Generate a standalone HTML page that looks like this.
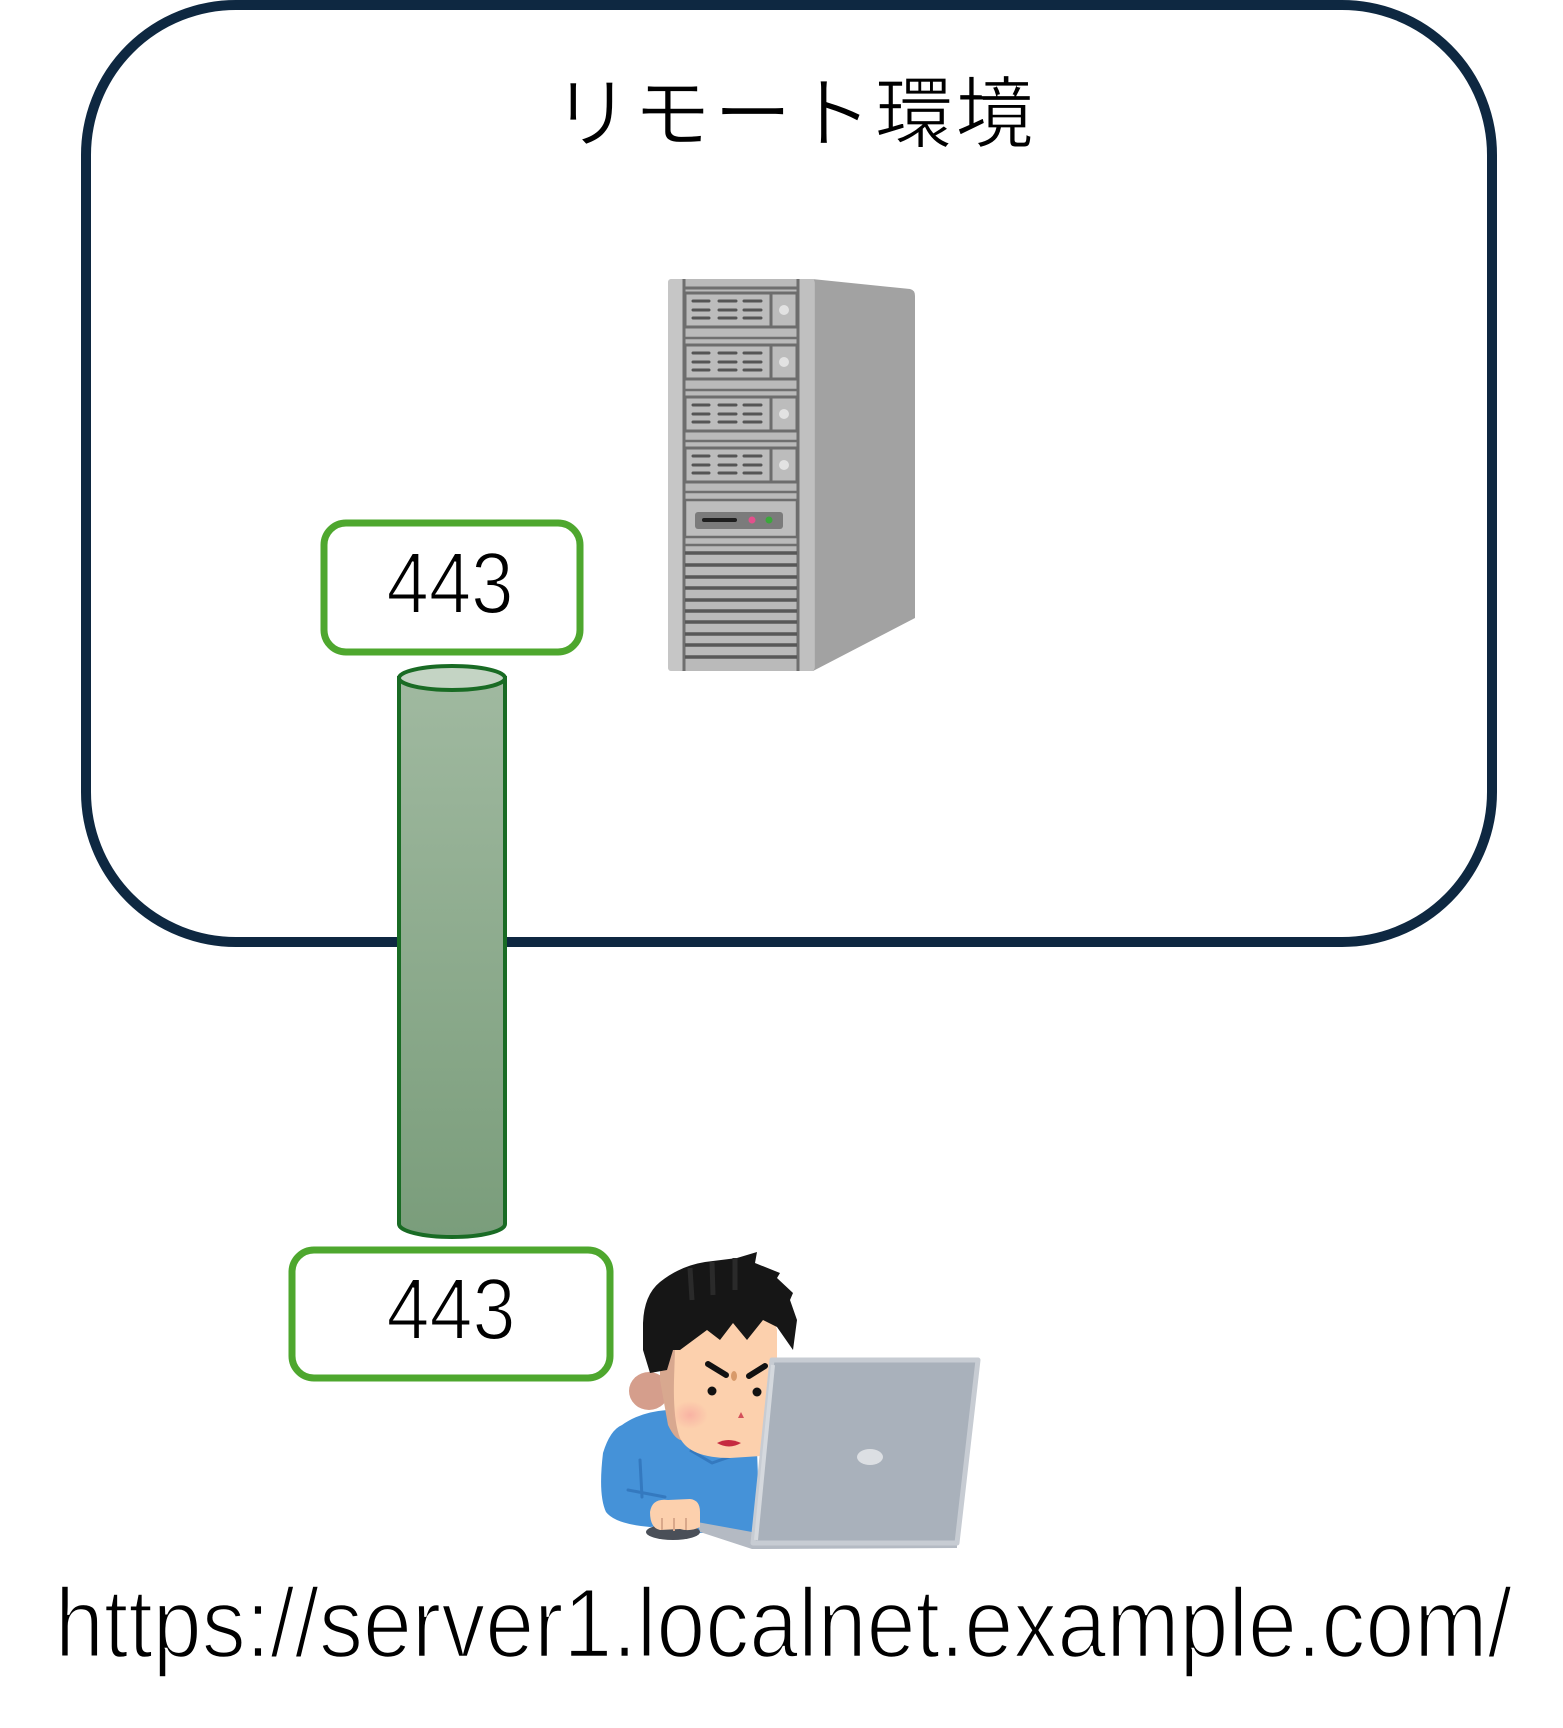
<!DOCTYPE html>
<html>
<head>
<meta charset="utf-8">
<style>
  html, body { margin:0; padding:0; background:#ffffff; }
  body { width:1563px; height:1728px; overflow:hidden; }
  svg { display:block; }
  text { font-family: "Liberation Sans", "Noto Sans CJK JP", sans-serif; fill:#000; }
</style>
</head>
<body>
<svg width="1563" height="1728" viewBox="0 0 1563 1728" xmlns="http://www.w3.org/2000/svg">
  <defs>
    <linearGradient id="cyl" x1="0" y1="0" x2="0" y2="1">
      <stop offset="0" stop-color="#a0b9a0"/>
      <stop offset="1" stop-color="#7a9d7b"/>
    </linearGradient>
    <radialGradient id="blush" cx="0.5" cy="0.5" r="0.5">
      <stop offset="0" stop-color="#f7a9a0" stop-opacity="0.75"/>
      <stop offset="1" stop-color="#f7a9a0" stop-opacity="0"/>
    </radialGradient>
  </defs>

  <!-- Outer remote environment box -->
  <rect x="86" y="5" width="1406" height="937" rx="150" ry="150" fill="none" stroke="#0e2841" stroke-width="10"/>

  <!-- Title -->
  <text x="793" y="141" font-size="78" text-anchor="middle" textLength="481" lengthAdjust="spacing" stroke="#ffffff" stroke-width="1.2" font-family="'Liberation Sans','Noto Sans CJK JP',sans-serif">リモート環境</text>

  <!-- Server tower -->
  <g>
    <path d="M812,279 L910,289 Q915,290 915,296 L915,618 L813,671 Z" fill="#a2a2a2"/>
    <rect x="668" y="279" width="147" height="392" rx="4" fill="#bababa"/>
    <rect x="668" y="279" width="15" height="392" rx="3" fill="#c6c6c6"/>
    <rect x="799" y="279" width="15" height="392" fill="#c0c0c0"/>
    <line x1="684" y1="279" x2="684" y2="671" stroke="#6f6f6f" stroke-width="3"/>
    <line x1="798" y1="279" x2="798" y2="671" stroke="#6f6f6f" stroke-width="3"/>
    <line x1="684" y1="288" x2="798" y2="288" stroke="#6f6f6f" stroke-width="3"/>

    <g stroke="#6d6d6d" stroke-width="3">
      <rect x="685" y="293" width="86" height="34" fill="#bcbcbc"/>
      <rect x="771" y="293" width="26" height="34" fill="#bcbcbc"/>
      <rect x="685" y="345" width="86" height="34" fill="#bcbcbc"/>
      <rect x="771" y="345" width="26" height="34" fill="#bcbcbc"/>
      <rect x="685" y="397" width="86" height="34" fill="#bcbcbc"/>
      <rect x="771" y="397" width="26" height="34" fill="#bcbcbc"/>
      <rect x="685" y="448" width="86" height="34" fill="#bcbcbc"/>
      <rect x="771" y="448" width="26" height="34" fill="#bcbcbc"/>
    </g>
    <g fill="#e2e2e2">
      <circle cx="784" cy="310" r="5"/>
      <circle cx="784" cy="362" r="5"/>
      <circle cx="784" cy="414" r="5"/>
      <circle cx="784" cy="465" r="5"/>
    </g>
    <g stroke="#555" stroke-width="3" stroke-linecap="round">
      <line x1="693" y1="301" x2="709" y2="301"/><line x1="719" y1="301" x2="736" y2="301"/><line x1="744" y1="301" x2="761" y2="301"/>
      <line x1="693" y1="310" x2="709" y2="310"/><line x1="719" y1="310" x2="736" y2="310"/><line x1="744" y1="310" x2="761" y2="310"/>
      <line x1="693" y1="318" x2="709" y2="318"/><line x1="719" y1="318" x2="736" y2="318"/><line x1="744" y1="318" x2="761" y2="318"/>
      <line x1="693" y1="353" x2="709" y2="353"/><line x1="719" y1="353" x2="736" y2="353"/><line x1="744" y1="353" x2="761" y2="353"/>
      <line x1="693" y1="362" x2="709" y2="362"/><line x1="719" y1="362" x2="736" y2="362"/><line x1="744" y1="362" x2="761" y2="362"/>
      <line x1="693" y1="370" x2="709" y2="370"/><line x1="719" y1="370" x2="736" y2="370"/><line x1="744" y1="370" x2="761" y2="370"/>
      <line x1="693" y1="405" x2="709" y2="405"/><line x1="719" y1="405" x2="736" y2="405"/><line x1="744" y1="405" x2="761" y2="405"/>
      <line x1="693" y1="414" x2="709" y2="414"/><line x1="719" y1="414" x2="736" y2="414"/><line x1="744" y1="414" x2="761" y2="414"/>
      <line x1="693" y1="422" x2="709" y2="422"/><line x1="719" y1="422" x2="736" y2="422"/><line x1="744" y1="422" x2="761" y2="422"/>
      <line x1="693" y1="456" x2="709" y2="456"/><line x1="719" y1="456" x2="736" y2="456"/><line x1="744" y1="456" x2="761" y2="456"/>
      <line x1="693" y1="465" x2="709" y2="465"/><line x1="719" y1="465" x2="736" y2="465"/><line x1="744" y1="465" x2="761" y2="465"/>
      <line x1="693" y1="473" x2="709" y2="473"/><line x1="719" y1="473" x2="736" y2="473"/><line x1="744" y1="473" x2="761" y2="473"/>
    </g>
    <g stroke="#6f6f6f" stroke-width="2.5">
      <line x1="684" y1="338" x2="798" y2="338"/>
      <line x1="684" y1="390" x2="798" y2="390"/>
      <line x1="684" y1="441" x2="798" y2="441"/>
      <line x1="684" y1="492" x2="798" y2="492"/>
    </g>
    <rect x="685" y="500" width="112" height="37" fill="#bdbdbd" stroke="#6d6d6d" stroke-width="2.5"/>
    <rect x="695" y="512" width="88" height="17" rx="3" fill="#7b7b7b"/>
    <rect x="702" y="518" width="35" height="4" rx="2" fill="#1e1e1e"/>
    <circle cx="752" cy="520" r="3.5" fill="#e3508c"/>
    <circle cx="769" cy="520" r="3.5" fill="#3ba83b"/>
    <line x1="684" y1="545" x2="798" y2="545" stroke="#6f6f6f" stroke-width="2.5"/>
    <g stroke="#585858" stroke-width="3.5">
      <line x1="685" y1="553" x2="797" y2="553"/>
      <line x1="685" y1="565" x2="797" y2="565"/>
      <line x1="685" y1="577" x2="797" y2="577"/>
      <line x1="685" y1="588" x2="797" y2="588"/>
      <line x1="685" y1="600" x2="797" y2="600"/>
      <line x1="685" y1="611" x2="797" y2="611"/>
      <line x1="685" y1="622" x2="797" y2="622"/>
      <line x1="685" y1="634" x2="797" y2="634"/>
      <line x1="685" y1="645" x2="797" y2="645"/>
      <line x1="685" y1="657" x2="797" y2="657"/>
    </g>
  </g>

  <!-- Top 443 box -->
  <rect x="324" y="523" width="256" height="129" rx="22" ry="22" fill="#ffffff" stroke="#4ea72e" stroke-width="7"/>
  <text x="450" y="613" font-size="87" text-anchor="middle" textLength="127" lengthAdjust="spacingAndGlyphs" stroke="#ffffff" stroke-width="2">443</text>

  <!-- Cylinder (tunnel) -->
  <path d="M399,678 L399,1224 A53,13 0 0 0 505,1224 L505,678 Z" fill="url(#cyl)" stroke="#196b24" stroke-width="4"/>
  <ellipse cx="452" cy="678" rx="53" ry="12" fill="#c4d4c4" stroke="#196b24" stroke-width="4"/>

  <!-- Bottom 443 box -->
  <rect x="292" y="1250" width="318" height="128" rx="22" ry="22" fill="#ffffff" stroke="#4ea72e" stroke-width="7"/>
  <text x="451" y="1339" font-size="87" text-anchor="middle" textLength="129" lengthAdjust="spacingAndGlyphs" stroke="#ffffff" stroke-width="2">443</text>

  <!-- Person with laptop -->
  <g>
    <path d="M603,1453 Q610,1430 622,1425 Q640,1412 667,1410 L680,1433 Q705,1452 733,1453 L757,1450 L760,1533 L700,1533 L690,1523 L650,1527 Q615,1524 606,1512 Q598,1495 603,1453 Z" fill="#4592d8"/>
    <path d="M640,1460 L642,1497" stroke="#3479bf" stroke-width="3" fill="none" stroke-linecap="round"/>
    <path d="M628,1490 L665,1497" stroke="#3479bf" stroke-width="3" fill="none" stroke-linecap="round"/>
    <path d="M690,1450 L712,1463 L735,1455" stroke="#3479bf" stroke-width="3" fill="none" stroke-linejoin="round"/>
    <ellipse cx="649" cy="1391" rx="20" ry="19" fill="#d59e8c"/>
    <path d="M660,1345 L684,1345 L684,1440 Q676,1442 668,1425 L660,1380 Z" fill="#d8a88f"/>
    <path d="M676,1320 Q690,1300 725,1300 Q770,1300 777,1330 L777,1455 L730,1458 Q690,1458 680,1438 Q673,1420 674,1380 Z" fill="#fcd0ad"/>
    <ellipse cx="690" cy="1415" rx="18" ry="14" fill="url(#blush)"/>
    <path d="M643,1323 Q644,1295 660,1282 Q680,1266 705,1262 L737,1258 L757,1252 L755,1263 L780,1273 L777,1278 L793,1293 L790,1300 L797,1320 L793,1350 L777,1327 L763,1320 L747,1340 L733,1323 L720,1340 L707,1330 L680,1350 L673,1350 L667,1370 L650,1373 L643,1350 Z" fill="#161616"/>
    <path d="M690,1268 L692,1300 M712,1262 L713,1295 M735,1258 L735,1290" stroke="#2a2a2a" stroke-width="5" fill="none"/>
    <path d="M708,1364 L726,1375" stroke="#111" stroke-width="6" stroke-linecap="round"/>
    <path d="M749,1376 L765,1366" stroke="#111" stroke-width="6" stroke-linecap="round"/>
    <ellipse cx="734" cy="1376" rx="3" ry="5" fill="#d89a6a"/>
    <circle cx="712" cy="1391" r="4.5" fill="#111"/>
    <circle cx="757" cy="1392" r="4.5" fill="#111"/>
    <path d="M738,1418 L741,1412 L744,1418 Z" fill="#d4505a"/>
    <path d="M717,1443 Q728,1437 741,1443 Q729,1450 717,1443 Z" fill="#c52a40"/>
    <path d="M697,1522 L752,1532 L957,1538 L957,1548 L752,1549 L700,1532 Z" fill="#b4bac3"/>
    <ellipse cx="673" cy="1532" rx="27" ry="8" fill="#4a4f58"/>
    <path d="M650,1512 Q652,1498 668,1500 L690,1499 Q700,1500 700,1512 L700,1527 Q690,1532 680,1529 L660,1530 Q650,1528 650,1512 Z" fill="#fcd0ad"/>
    <path d="M662,1518 L662,1530 M674,1518 L674,1531 M686,1518 L686,1530" stroke="#d9a88a" stroke-width="2" fill="none"/>
    <path d="M772,1360 L978,1360 L957,1543 L753,1543 Z" fill="#a9b1bb" stroke="#c7ccd3" stroke-width="5" stroke-linejoin="round"/>
    <path d="M773,1365 L756,1540" stroke="#d5d9de" stroke-width="4"/>
    <ellipse cx="870" cy="1457" rx="13" ry="8" fill="#dcdfe3"/>
  </g>

  <!-- URL -->
  <text x="55" y="1657" font-size="98" textLength="1457" lengthAdjust="spacingAndGlyphs" stroke="#ffffff" stroke-width="2.5">https://server1.localnet.example.com/</text>
</svg>
</body>
</html>
